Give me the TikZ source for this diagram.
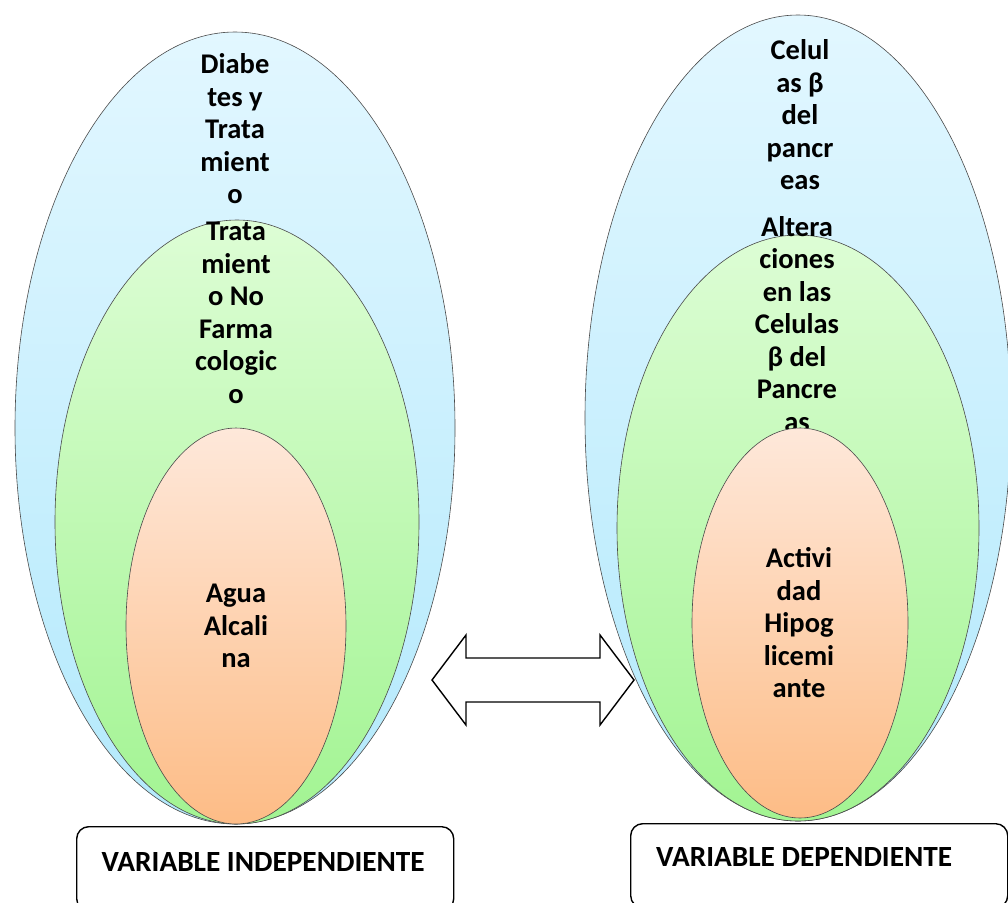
\documentclass[tikz,border=0pt]{standalone}
\usepackage{fontspec}
\setmainfont{Carlito}
\usetikzlibrary{calc}
\definecolor{skytop}{HTML}{E2F7FF}
\definecolor{skybot}{HTML}{B3E9FC}
\definecolor{leaftop}{HTML}{DDFDD5}
\definecolor{leafbot}{HTML}{A2F492}
\definecolor{peachtop}{HTML}{FEE8DA}
\definecolor{peachbot}{HTML}{FDBC86}
\definecolor{rimgray}{HTML}{4A4A4A}

\begin{document}
\begin{tikzpicture}[
    x=1pt, y=-1pt,
    blueegg/.style={top color=skytop, bottom color=skybot, draw=rimgray, line width=0.6pt},
    greenegg/.style={top color=leaftop, bottom color=leafbot, draw=rimgray, line width=0.6pt},
    peachegg/.style={top color=peachtop, bottom color=peachbot, draw=rimgray, line width=0.6pt},
    bubtext/.style={font=\bfseries\fontsize{28.5}{32.5}\selectfont, align=center,
                    text=black, inner sep=0pt},
    varbox/.style={draw=black, line width=1.4pt, rounded corners=12pt,
                   minimum width=377pt, minimum height=84pt, inner sep=0pt},
    vartext/.style={font=\bfseries\fontsize{29.3}{33}\selectfont, text=black, inner sep=0pt},
  ]

  % ══════════════════════════════════════════════════════
  % Page frame
  % ══════════════════════════════════════════════════════
  \useasboundingbox (0,0) rectangle (1008,902);
  \clip (0,0) rectangle (1008,902);

  % ══════════════════════════════════════════════════════
  % Independent variable: nested ellipses
  % ══════════════════════════════════════════════════════
  \shade[blueegg] (235,428) ellipse [x radius=220, y radius=396];
  \node[bubtext] (diab) at (235,129)
    {Diabe\\tes y\\Trata\\mient\\o};

  \shade[greenegg] (237,522) ellipse [x radius=182, y radius=302];
  \node[bubtext] (nofarma) at (236,313)
    {Trata\\mient\\o No\\Farma\\cologic\\o};

  \shade[peachegg] (236,626) ellipse [x radius=110, y radius=198];
  \node[bubtext] (agua) at (236,626)
    {Agua\\Alcali\\na};

  % ══════════════════════════════════════════════════════
  % Dependent variable: nested ellipses
  % ══════════════════════════════════════════════════════
  \shade[blueegg] (798,418) ellipse [x radius=213, y radius=403];
  \node[bubtext] (celulas) at (800,115)
    {Celul\\as β\\del\\pancr\\eas};

  \shade[greenegg] (798,528) ellipse [x radius=181, y radius=293];
  \node[bubtext] (alter) at (797,324)
    {Altera\\ciones\\en las\\Celulas\\β del\\Pancre\\as};

  \shade[peachegg] (800,623) ellipse [x radius=108, y radius=195];
  \node[bubtext] (hipo) at (799,623)
    {Activi\\dad\\Hipog\\licemi\\ante};

  % ══════════════════════════════════════════════════════
  % Two-headed block arrow between the groups
  % ══════════════════════════════════════════════════════
  \coordinate (tipL) at (432,680);
  \coordinate (tipR) at (634,680);
  \draw[black, line width=1.4pt, fill=white, line join=miter]
    (tipL) -- (466,635) -- (466,658) -- (600,658) -- (600,635) -- (tipR)
    -- (600,725) -- (600,702) -- (466,702) -- (466,725) -- cycle;

  % ══════════════════════════════════════════════════════
  % Variable labels
  % ══════════════════════════════════════════════════════
  \node[varbox, anchor=north west] (indepbox) at (76,826) {};
  \node[vartext] (indep) at ($(indepbox.north)+(-2,36)$) {VARIABLE INDEPENDIENTE};

  \node[varbox, anchor=north west] (depbox) at (630,823) {};
  \node[vartext] (dep) at ($(depbox.north)+(-15,34)$) {VARIABLE DEPENDIENTE};

\end{tikzpicture}
\end{document}
